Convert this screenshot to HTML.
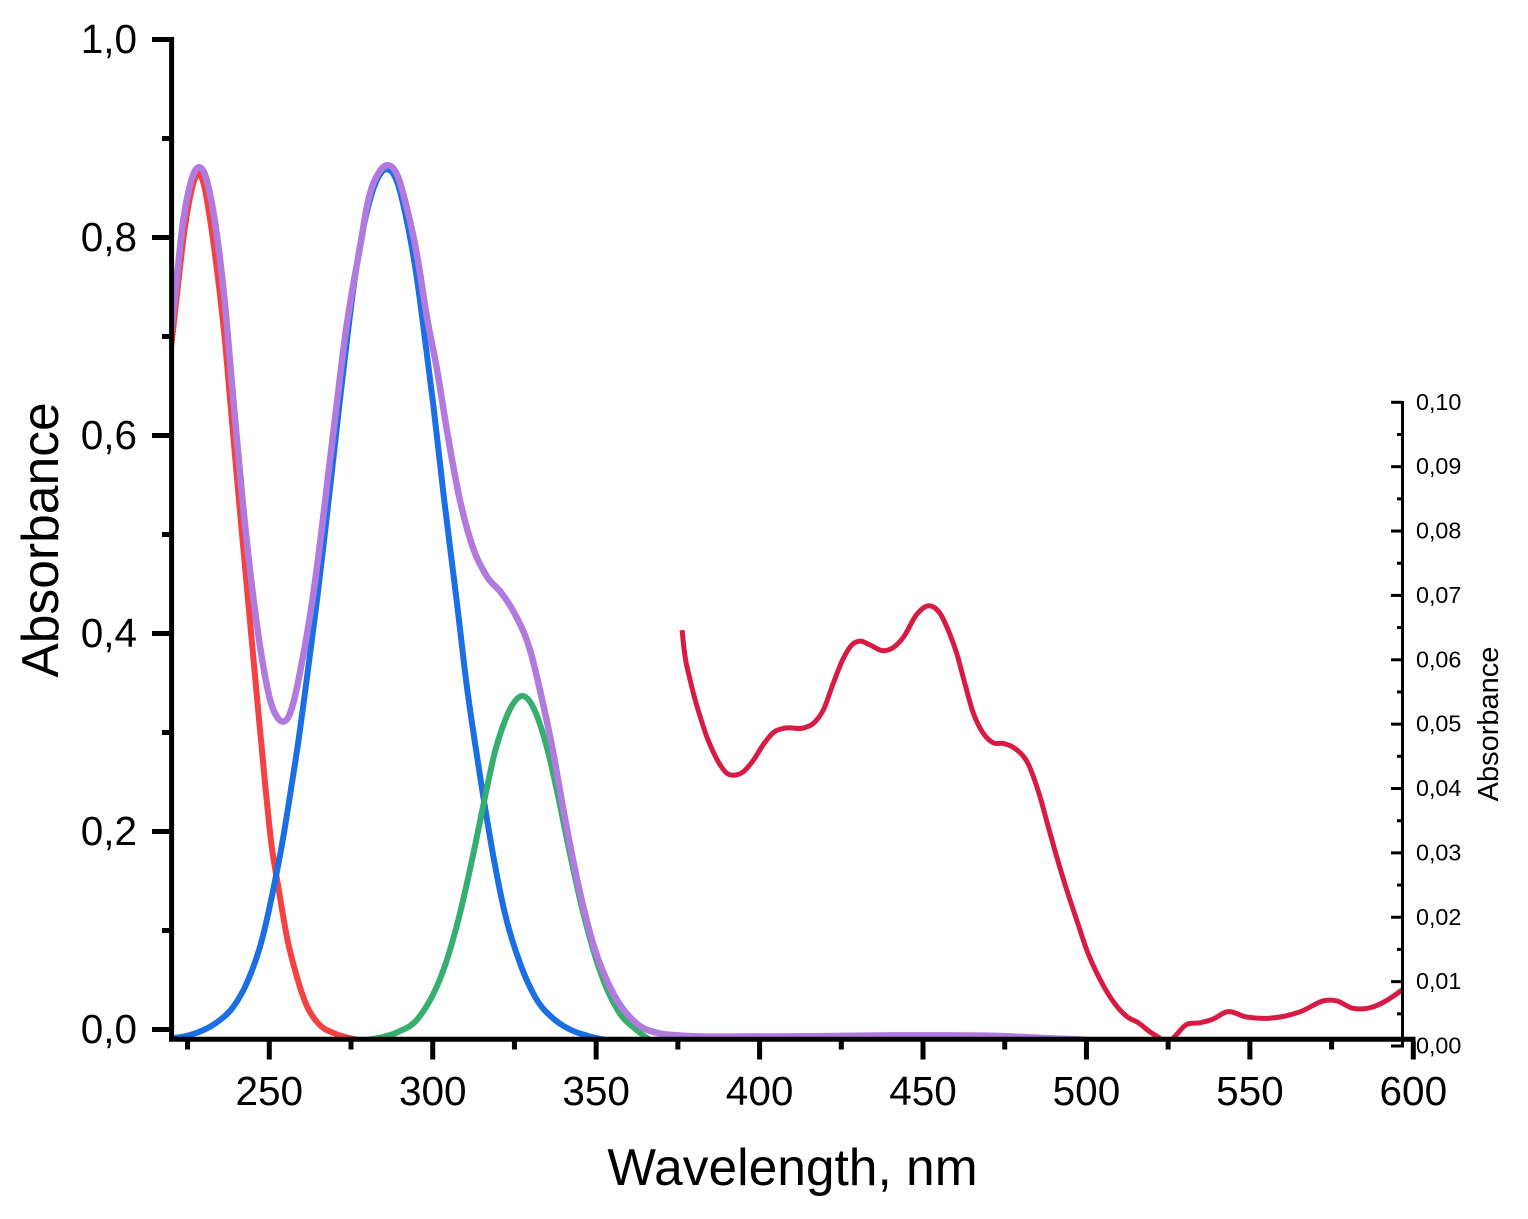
<!DOCTYPE html>
<html lang="en">
<head>
<meta charset="utf-8">
<title>Absorbance spectrum</title>
<style>
html,body{margin:0;padding:0;background:#fff;}
svg{display:block;font-family:"Liberation Sans",Arial,sans-serif;fill:#000;}
</style>
</head>
<body>
<svg id="chart" xmlns="http://www.w3.org/2000/svg" width="1528" height="1219" viewBox="0 0 1528 1219">
<defs><clipPath id="plot-clip"><rect x="171" y="0" width="1232" height="1038"></rect></clipPath></defs>
<g id="series" clip-path="url(#plot-clip)"></g>
<g id="axes"></g>
<text x="792.5" y="1185" font-size="51.5" text-anchor="middle">Wavelength, nm</text>
<text transform="translate(58 540) rotate(-90)" font-size="51.6" text-anchor="middle">Absorbance</text>
<text transform="translate(1498 724) rotate(-90)" font-size="29" text-anchor="middle">Absorbance</text>
</svg>
<script>
const xTickValues = [250, 300, 350, 400, 450, 500, 550, 600];
const xMinorTickValues = [225, 275, 325, 375, 425, 475, 525, 575];
const leftTickLabels = ['0,0', '0,2', '0,4', '0,6', '0,8', '1,0'];
const leftTickValues = [0, 0.2, 0.4, 0.6, 0.8, 1.0];
const leftMinorTickValues = [0.1, 0.3, 0.5, 0.7, 0.9];
const rightTickLabels = ['0,00', '0,01', '0,02', '0,03', '0,04', '0,05', '0,06', '0,07', '0,08', '0,09', '0,10'];
const rightTickValues = [0, 0.01, 0.02, 0.03, 0.04, 0.05, 0.06, 0.07, 0.08, 0.09, 0.10];
const rightMinorTickValues = [0.005, 0.015, 0.025, 0.035, 0.045, 0.055, 0.065, 0.075, 0.085, 0.095];

const redWavelength = [220, 222, 224, 225.7, 227.3, 228.5, 230, 231.9, 233.3, 235.1, 236.6, 238, 240.7, 243.5, 246.3, 248.9, 250.5, 252.9, 255.6, 258.1, 261.6, 265, 269.6, 275, 280];
const redAbsorbance = [0.69, 0.75, 0.806, 0.84, 0.86, 0.865, 0.853, 0.818, 0.785, 0.737, 0.69, 0.636, 0.535, 0.434, 0.333, 0.242, 0.191, 0.141, 0.09, 0.057, 0.023, 0.006, -0.0035, -0.009, -0.012];

const blueWavelength = [220, 221, 226.3, 233.4, 239, 243, 247.7, 251.2, 254.1, 256.6, 258.8, 261.7, 264.6, 267, 269.3, 271.6, 274, 276, 279.8, 282.9, 286, 289, 292, 295.1, 297.9, 300.2, 303.5, 307.3, 310.5, 312.9, 315, 318, 322.1, 326.7, 331.3, 337.4, 342, 347, 352, 358];
const blueAbsorbance = [-0.009, -0.0086, -0.005, 0.006, 0.023, 0.046, 0.09, 0.141, 0.191, 0.242, 0.289, 0.36, 0.434, 0.501, 0.568, 0.636, 0.703, 0.755, 0.825, 0.858, 0.869, 0.857, 0.818, 0.76, 0.69, 0.63, 0.535, 0.434, 0.345, 0.29, 0.245, 0.185, 0.117, 0.067, 0.033, 0.0096, 0, -0.006, -0.01, -0.013];

const greenWavelength = [275, 281.8, 289, 295.1, 298, 301.2, 304.3, 308.3, 312.9, 316, 319, 322.1, 325, 327.4, 329.8, 332.1, 335, 338.4, 341.5, 346.1, 352.2, 357.3, 362.4, 366.5, 372];
const greenAbsorbance = [-0.012, -0.0096, -0.003, 0.0096, 0.023, 0.043, 0.07, 0.117, 0.185, 0.235, 0.28, 0.312, 0.331, 0.337, 0.331, 0.315, 0.284, 0.235, 0.185, 0.117, 0.05, 0.016, -0.0005, -0.0105, -0.013];

const purpleWavelength = [220, 221.5, 223.7, 225.7, 227.2, 228.6, 230, 231.6, 233.9, 236.3, 239, 241.8, 245.2, 248.2, 250.5, 252.3, 254.1, 255.9, 257.6, 259.7, 263.2, 265.9, 268.3, 270.8, 273.3, 274.9, 278, 279.8, 281.4, 282.9, 284.5, 286, 289.3, 292, 295.1, 298.2, 301.4, 304.5, 308.3, 312.6, 316.7, 321, 325.1, 329.8, 333, 336.5, 340.2, 344.2, 349.3, 355.8, 362.4, 369.5, 375.6, 400, 450, 473.5, 480, 490, 498, 505];
const purpleAbsorbance = [0.705, 0.752, 0.818, 0.852, 0.867, 0.871, 0.866, 0.848, 0.804, 0.737, 0.636, 0.535, 0.434, 0.366, 0.33, 0.316, 0.311, 0.316, 0.333, 0.366, 0.434, 0.501, 0.568, 0.636, 0.703, 0.737, 0.795, 0.83, 0.851, 0.862, 0.87, 0.873, 0.862, 0.831, 0.784, 0.72, 0.665, 0.602, 0.535, 0.484, 0.457, 0.441, 0.42, 0.383, 0.34, 0.286, 0.218, 0.151, 0.084, 0.033, 0.006, -0.004, -0.006, -0.007, -0.0059, -0.0066, -0.0075, -0.0091, -0.01, -0.012];

const crimsonWavelength = [376.3, 376.6, 377.2, 378.5, 380, 381.8, 383.8, 385.8, 387.9, 389.9, 392.7, 395, 398.1, 401.1, 404.2, 407.8, 413.4, 416.4, 419.5, 422.5, 425.6, 428.2, 430.7, 433.8, 437.8, 440.9, 444, 448, 451.9, 455.2, 457.7, 460.3, 462.8, 465.4, 468.4, 471.5, 474.6, 478.7, 481.9, 485.5, 488.3, 490.9, 494, 497, 500.1, 504.2, 508.2, 512.3, 515.9, 519.4, 522.5, 524.5, 526.5, 530.5, 534.7, 538.8, 542.9, 549, 559.2, 565.3, 573.5, 576.6, 581.2, 587.8, 591.9, 596.5, 600];
const crimsonAbsorbance = [0.0646, 0.063, 0.0605, 0.0574, 0.0543, 0.0512, 0.0481, 0.0457, 0.0437, 0.0424, 0.0421, 0.0426, 0.0444, 0.0468, 0.0487, 0.0494, 0.0494, 0.0501, 0.0522, 0.0563, 0.0602, 0.0623, 0.0629, 0.0623, 0.0614, 0.0619, 0.0635, 0.067, 0.0684, 0.0672, 0.0646, 0.061, 0.0563, 0.0517, 0.0486, 0.0471, 0.047, 0.046, 0.0441, 0.0392, 0.0341, 0.0294, 0.0242, 0.0196, 0.0149, 0.0103, 0.0069, 0.0046, 0.0036, 0.0022, 0.0012, 0.0004, 0.0012, 0.0033, 0.0036, 0.0042, 0.0053, 0.0045, 0.0045, 0.0053, 0.0071, 0.007, 0.0059, 0.0061, 0.0071, 0.0087, 0.0102];

function xScale(w) { return 269.3 + (w - 250) * 3.2686; }
function yLeft(a) { return 1029.5 - a * 990; }
function yRight(a) { return 1046 - a * 6437; }

const SVGNS = 'http://www.w3.org/2000/svg';
const seriesLayer = document.getElementById('series');
const axesLayer = document.getElementById('axes');

// Cubic Hermite through the data points, with tangents from non-uniform three-point differences.
function smoothPath(xs, ys, xFn, yFn) {
  const px = xs.map(xFn);
  const py = ys.map(yFn);
  const n = px.length;
  const m = [];
  for (let i = 0; i < n; i++) {
    if (i === 0) { m.push((py[1] - py[0]) / (px[1] - px[0])); continue; }
    if (i === n - 1) { m.push((py[i] - py[i - 1]) / (px[i] - px[i - 1])); continue; }
    const h0 = px[i] - px[i - 1], h1 = px[i + 1] - px[i];
    const d0 = (py[i] - py[i - 1]) / h0, d1 = (py[i + 1] - py[i]) / h1;
    m.push((h0 * d1 + h1 * d0) / (h0 + h1));
  }
  let d = 'M' + px[0].toFixed(2) + ' ' + py[0].toFixed(2);
  for (let i = 0; i < n - 1; i++) {
    const h = (px[i + 1] - px[i]) / 3;
    d += 'C' + (px[i] + h).toFixed(2) + ' ' + (py[i] + m[i] * h).toFixed(2) + ' ' +
      (px[i + 1] - h).toFixed(2) + ' ' + (py[i + 1] - m[i + 1] * h).toFixed(2) + ' ' +
      px[i + 1].toFixed(2) + ' ' + py[i + 1].toFixed(2);
  }
  return d;
}

function drawCurve(xs, ys, yFn, color, width, name) {
  const el = document.createElementNS(SVGNS, 'path');
  el.setAttribute('d', smoothPath(xs, ys, xScale, yFn));
  el.setAttribute('fill', 'none');
  el.setAttribute('stroke', color);
  el.setAttribute('stroke-width', width);
  el.setAttribute('stroke-linejoin', 'round');
  
  
  seriesLayer.appendChild(el);
}

function drawLine(x1, y1, x2, y2, width, name) {
  const el = document.createElementNS(SVGNS, 'line');
  el.setAttribute('x1', x1);
  el.setAttribute('y1', y1);
  el.setAttribute('x2', x2);
  el.setAttribute('y2', y2);
  el.setAttribute('stroke', '#000');
  el.setAttribute('stroke-width', width);
  
  
  axesLayer.appendChild(el);
}

function drawLabel(x, y, text, size, anchor, name) {
  const el = document.createElementNS(SVGNS, 'text');
  el.setAttribute('x', x);
  el.setAttribute('y', y);
  el.setAttribute('font-size', size);
  el.setAttribute('text-anchor', anchor);
  
  
  el.textContent = text;
  axesLayer.appendChild(el);
}

drawCurve(redWavelength, redAbsorbance, yLeft, '#f44141', 6, 'red-component-curve');
drawCurve(blueWavelength, blueAbsorbance, yLeft, '#1a6fe3', 6, 'blue-component-curve');
drawCurve(greenWavelength, greenAbsorbance, yLeft, '#35ae70', 6, 'green-component-curve');
drawCurve(purpleWavelength, purpleAbsorbance, yLeft, '#b07ade', 6.5, 'purple-total-curve');
drawCurve(crimsonWavelength, crimsonAbsorbance, yRight, '#d81b45', 5, 'crimson-inset-curve');

drawLine(171.6, 37, 171.6, 1041.5, 5, 'left-y-axis-line');
drawLine(169, 1039.3, 1415.5, 1039.3, 5, 'x-axis-line');
drawLine(1402.5, 401, 1402.5, 1047.5, 3, 'right-y-axis-line');

xTickValues.forEach(function (v) {
  drawLine(xScale(v), 1041, xScale(v), 1059.5, 5, 'x-major-tick');
  drawLabel(xScale(v), 1105, String(v), 40.5, 'middle', 'x-tick-label');
});
xMinorTickValues.forEach(function (v) {
  drawLine(xScale(v), 1041, xScale(v), 1049.5, 5, 'x-minor-tick');
});
leftTickValues.forEach(function (v, i) {
  drawLine(152, yLeft(v), 170, yLeft(v), 5, 'left-major-tick');
  drawLabel(137, yLeft(v) + 13.5, leftTickLabels[i], 40.5, 'end', 'left-tick-label');
});
leftMinorTickValues.forEach(function (v) {
  drawLine(162, yLeft(v), 170, yLeft(v), 5, 'left-minor-tick');
});
rightTickValues.forEach(function (v, i) {
  drawLine(1391, yRight(v), 1402, yRight(v), 3, 'right-major-tick');
  drawLabel(1416, yRight(v) + 7.5, rightTickLabels[i], 23.3, 'start', 'right-tick-label');
});
rightMinorTickValues.forEach(function (v) {
  drawLine(1397, yRight(v), 1402, yRight(v), 3, 'right-minor-tick');
});
</script>
</body>
</html>
